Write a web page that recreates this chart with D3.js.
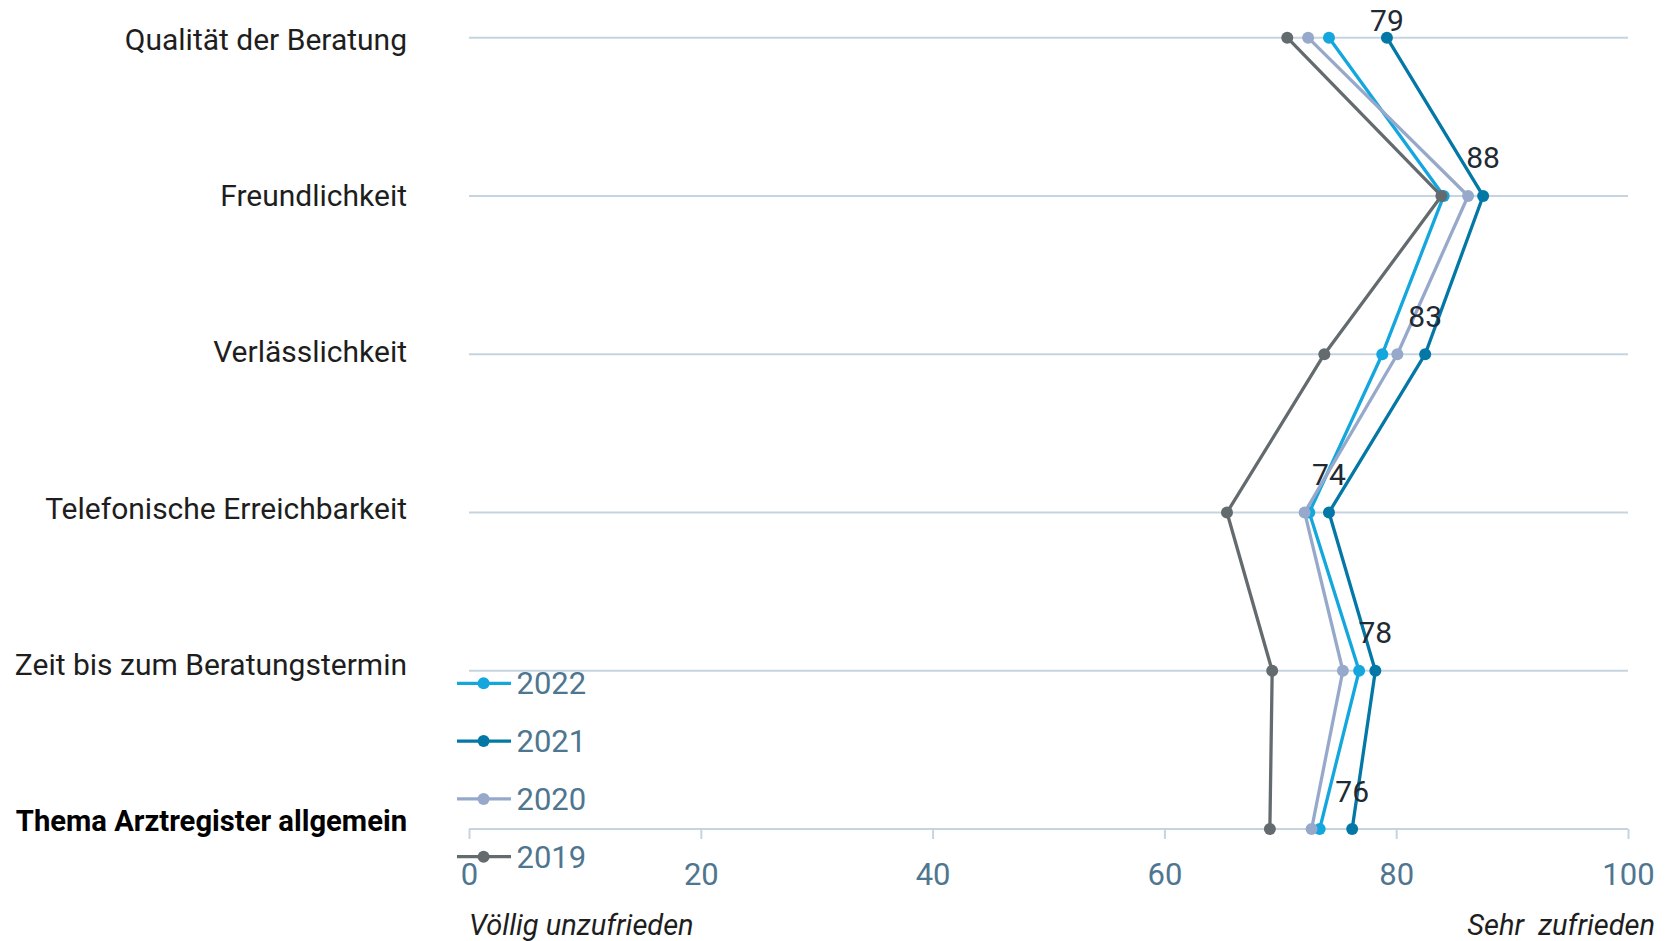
<!DOCTYPE html>
<html><head><meta charset="utf-8">
<script src="https://cdn.jsdelivr.net/npm/d3@7"></script>
<style>
html,body{margin:0;padding:0;background:#fff;}
svg{display:block;font-family:Roboto,"Noto Sans",sans-serif;}
</style></head>
<body><svg id="chart" width="1677" height="941"></svg>
<script>
const categories = ["Qualität der Beratung","Freundlichkeit","Verlässlichkeit","Telefonische Erreichbarkeit","Zeit bis zum Beratungstermin","Thema Arztregister allgemein"];
const years = ["2022","2021","2020","2019"];
const v2022 = [74.2, 84.1, 78.8, 72.5, 76.8, 73.4];
const v2021 = [79.2, 87.5, 82.5, 74.2, 78.2, 76.2];
const v2020 = [72.4, 86.2, 80.1, 72.1, 75.4, 72.7];
const v2019 = [70.6, 83.9, 73.8, 65.4, 69.3, 69.1];
const labels2021 = ["79","88","83","74","78","76"];
const xTicks = [0,20,40,60,80,100];
const colors = {"2022":"#14a7de","2021":"#0378a6","2020":"#97a9ca","2019":"#646b6f"};

const svg = d3.select("#chart");
const x = d3.scaleLinear().domain([0,100]).range([469,1628]);
const y = d3.scalePoint().domain(categories).range([37.7,829]);
const yLab = d3.scalePoint().domain(categories).range([39.6,820.5]);

const series = {"2022":v2022,"2021":v2021,"2020":v2020,"2019":v2019};

// grid lines
svg.append("g").selectAll("line").data(categories).join("line")
  .attr("x1", x(0)).attr("x2", x(100))
  .attr("y1", d=>y(d)).attr("y2", d=>y(d))
  .attr("stroke","#c6d4df").attr("stroke-width",2);

// x axis
const ax = svg.append("g").attr("transform",`translate(0,${y(categories[categories.length-1])})`)
  .call(d3.axisBottom(x).tickValues(xTicks).tickSize(10).tickSizeOuter(0).tickPadding(24));
ax.select(".domain").remove();
ax.selectAll(".tick line").attr("stroke","#c6d4df").attr("stroke-width",2);
ax.selectAll(".tick text").attr("fill","#4f7690").attr("font-size",31).attr("font-family","Roboto");

// y labels
svg.append("g").selectAll("text").data(categories).join("text")
  .attr("x",407).attr("y",d=>yLab(d)).attr("dy","0.35em")
  .attr("text-anchor","end")
  .attr("font-size",(d,i)=>i===categories.length-1?29.2:30)
  .attr("fill",(d,i)=>i===categories.length-1?"#000":"#1e1e1e")
  .attr("font-weight",(d,i)=>i===categories.length-1?"bold":"normal")
  .text(d=>d);

// lines (draw order bottom to top)
const drawOrder = ["2022","2021","2020","2019"];
const line = d3.line().x(d=>x(d.v)).y(d=>y(d.c));
drawOrder.forEach(yr=>{
  const pts = categories.map((c,i)=>({c, v:series[yr][i]}));
  const g = svg.append("g");
  g.append("path").datum(pts).attr("d",line).attr("fill","none")
    .attr("stroke",colors[yr]).attr("stroke-width",3.3).attr("stroke-linejoin","round");
  g.selectAll("circle").data(pts).join("circle")
    .attr("cx",d=>x(d.v)).attr("cy",d=>y(d.c)).attr("r",6).attr("fill",colors[yr]);
});

// data labels for 2021
svg.append("g").selectAll("text").data(categories).join("text")
  .attr("x",(d,i)=>x(v2021[i])).attr("y",d=>Math.max(y(d)-27.5,31))
  .attr("text-anchor","middle").attr("font-size",30).attr("fill","#1f2a33")
  .text((d,i)=>labels2021[i]);

// legend
const lg = svg.append("g").selectAll("g").data(years).join("g")
  .attr("transform",(d,i)=>`translate(457,${683.3+i*57.8})`);
lg.append("line").attr("x1",0).attr("x2",54).attr("stroke",d=>colors[d]).attr("stroke-width",3.3);
lg.append("circle").attr("cx",26.6).attr("r",6).attr("fill",d=>colors[d]);
lg.append("text").attr("x",59.5).attr("dy","0.35em").attr("font-size",31).attr("fill","#4f7690").text(d=>d);

// axis end labels
svg.append("text").attr("x",469).attr("y",935).attr("font-size",29).attr("font-style","italic").attr("fill","#1e1e1e").text("Völlig unzufrieden");
svg.append("text").attr("x",1655).attr("y",935).attr("text-anchor","end").attr("font-size",29).attr("font-style","italic").attr("fill","#1e1e1e").attr("xml:space","preserve").style("white-space","pre").text("Sehr  zufrieden");
</script></body></html>
